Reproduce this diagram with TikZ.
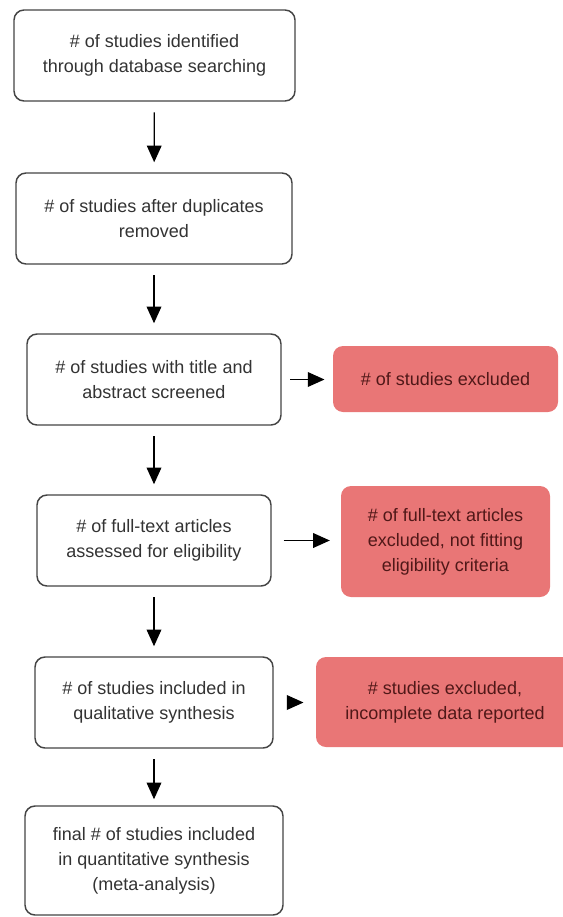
\documentclass[tikz,border=0pt]{standalone}
\usepackage{fontspec}
\setmainfont{Liberation Sans}
\usetikzlibrary{arrows.meta}

\definecolor{boxline}{RGB}{68,68,68}
\definecolor{boxtext}{RGB}{51,51,51}
\definecolor{exclfill}{RGB}{233,118,118}
\definecolor{excltext}{RGB}{80,24,24}

\tikzset{every picture/.style={line width=0.75pt}}
\tikzset{
  stagebox/.style={draw=boxline, line width=1.1pt, rounded corners=7.5pt, fill=white,
    text=boxtext, align=center, minimum height=68.25pt, inner sep=0pt,
    font=\fontsize{13.5}{18.75}\selectfont},
  exclbox/.style={fill=exclfill, rounded corners=7.5pt, text=excltext, align=center,
    inner sep=0pt, font=\fontsize{13.5}{18.75}\selectfont},
  flow/.style={line width=1pt, -{Triangle[width=11pt,length=12.5pt]}, shorten <=8pt, shorten >=7.5pt}
}

\begin{document}
\begin{tikzpicture}[x=0.75pt,y=0.75pt,yscale=-1,xscale=1]
%set diagram to the size of the picture
\clip (0,0) rectangle (563,917);

% Stage Nodes
\node [stagebox, minimum width=210.75pt] (ident) at (154.5,55.5) {\# of studies identified\\through database searching};
\node [stagebox, minimum width=207pt] (dedup) at (154,218.5) {\# of studies after duplicates\\removed};
\node [stagebox, minimum width=190.5pt] (screen) at (154,379.5) {\# of studies with title and\\abstract screened};
\node [stagebox, minimum width=175.5pt] (fulltext) at (154,540.5) {\# of full-text articles\\assessed for eligibility};
\node [stagebox, minimum width=178.5pt] (qual) at (154,702.5) {\# of studies included in\\qualitative synthesis};
\node [stagebox, minimum width=193.5pt, minimum height=81.75pt] (quant) at (154,860.5) {final \# of studies included\\in quantitative synthesis\\(meta-analysis)};

% Exclusion Nodes
\node [exclbox, minimum width=168.75pt, minimum height=49.5pt] (exscreen) at (445.5,379) {\# of studies excluded};
\node [exclbox, minimum width=156.75pt, minimum height=83.25pt] (exfull) at (445.5,541.5) {\# of full-text articles\\excluded, not fitting\\eligibility criteria};
\node [exclbox, minimum width=193.5pt, minimum height=67.5pt] (exqual) at (445,702) {\# studies excluded,\\incomplete data reported};

% Straight Lines
\draw [flow] (ident) -- (dedup);
\draw [flow] (dedup) -- (screen);
\draw [flow] (screen) -- (fulltext);
\draw [flow] (fulltext) -- (qual);
\draw [flow, shorten >=4.5pt] (qual) -- (quant);

\draw [flow, shorten <=6.5pt, shorten >=6pt] (screen) -- (screen -| exscreen.west);
\draw [flow, shorten <=9pt, shorten >=8pt] (fulltext) -- (fulltext -| exfull.west);
\draw [flow, shorten <=12pt, shorten >=9pt] (qual) -- (qual -| exqual.west);

\end{tikzpicture}
\end{document}
